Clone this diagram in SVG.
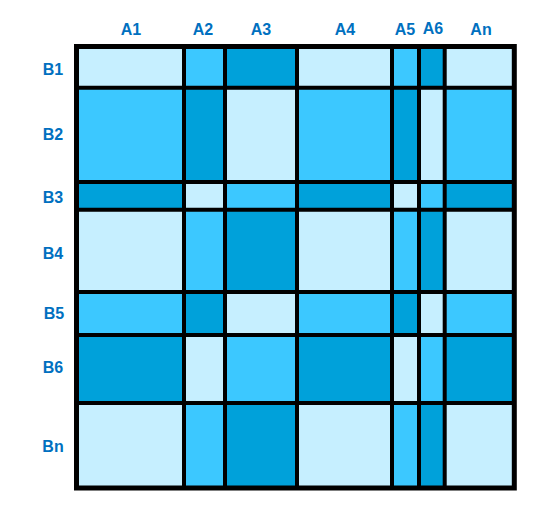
<svg xmlns="http://www.w3.org/2000/svg" width="560" height="524" viewBox="0 0 560 524">
<style>
.l{fill:#C6EFFF}
.m{fill:#3CC8FF}
.d{fill:#00A1DA}
.lbl{font-family:"Liberation Sans",Arial,sans-serif;font-weight:bold;font-size:16px;fill:#0070C0;text-anchor:middle}
.grid{stroke:#000;stroke-width:4;fill:none}
</style>
<rect width="560" height="524" fill="#fff"/>
<g id="cells">
<g id="row-B1">
<rect class="l" x="76.5" y="46.5" width="107.5" height="41.2"/>
<rect class="m" x="184" y="46.5" width="41" height="41.2"/>
<rect class="d" x="225" y="46.5" width="72" height="41.2"/>
<rect class="l" x="297" y="46.5" width="95" height="41.2"/>
<rect class="m" x="392" y="46.5" width="27" height="41.2"/>
<rect class="d" x="419" y="46.5" width="25.7" height="41.2"/>
<rect class="l" x="444.7" y="46.5" width="69.6" height="41.2"/>
</g>
<g id="row-B2">
<rect class="m" x="76.5" y="87.7" width="107.5" height="94.3"/>
<rect class="d" x="184" y="87.7" width="41" height="94.3"/>
<rect class="l" x="225" y="87.7" width="72" height="94.3"/>
<rect class="m" x="297" y="87.7" width="95" height="94.3"/>
<rect class="d" x="392" y="87.7" width="27" height="94.3"/>
<rect class="l" x="419" y="87.7" width="25.7" height="94.3"/>
<rect class="m" x="444.7" y="87.7" width="69.6" height="94.3"/>
</g>
<g id="row-B3">
<rect class="d" x="76.5" y="182" width="107.5" height="27.7"/>
<rect class="l" x="184" y="182" width="41" height="27.7"/>
<rect class="m" x="225" y="182" width="72" height="27.7"/>
<rect class="d" x="297" y="182" width="95" height="27.7"/>
<rect class="l" x="392" y="182" width="27" height="27.7"/>
<rect class="m" x="419" y="182" width="25.7" height="27.7"/>
<rect class="d" x="444.7" y="182" width="69.6" height="27.7"/>
</g>
<g id="row-B4">
<rect class="l" x="76.5" y="209.7" width="107.5" height="82.3"/>
<rect class="m" x="184" y="209.7" width="41" height="82.3"/>
<rect class="d" x="225" y="209.7" width="72" height="82.3"/>
<rect class="l" x="297" y="209.7" width="95" height="82.3"/>
<rect class="m" x="392" y="209.7" width="27" height="82.3"/>
<rect class="d" x="419" y="209.7" width="25.7" height="82.3"/>
<rect class="l" x="444.7" y="209.7" width="69.6" height="82.3"/>
</g>
<g id="row-B5">
<rect class="m" x="76.5" y="292" width="107.5" height="43"/>
<rect class="d" x="184" y="292" width="41" height="43"/>
<rect class="l" x="225" y="292" width="72" height="43"/>
<rect class="m" x="297" y="292" width="95" height="43"/>
<rect class="d" x="392" y="292" width="27" height="43"/>
<rect class="l" x="419" y="292" width="25.7" height="43"/>
<rect class="m" x="444.7" y="292" width="69.6" height="43"/>
</g>
<g id="row-B6">
<rect class="d" x="76.5" y="335" width="107.5" height="68"/>
<rect class="l" x="184" y="335" width="41" height="68"/>
<rect class="m" x="225" y="335" width="72" height="68"/>
<rect class="d" x="297" y="335" width="95" height="68"/>
<rect class="l" x="392" y="335" width="27" height="68"/>
<rect class="m" x="419" y="335" width="25.7" height="68"/>
<rect class="d" x="444.7" y="335" width="69.6" height="68"/>
</g>
<g id="row-Bn">
<rect class="l" x="76.5" y="403" width="107.5" height="85"/>
<rect class="m" x="184" y="403" width="41" height="85"/>
<rect class="d" x="225" y="403" width="72" height="85"/>
<rect class="l" x="297" y="403" width="95" height="85"/>
<rect class="m" x="392" y="403" width="27" height="85"/>
<rect class="d" x="419" y="403" width="25.7" height="85"/>
<rect class="l" x="444.7" y="403" width="69.6" height="85"/>
</g>
</g>
<g id="gridlines" class="grid">
<path d="M184 46.5V488M225 46.5V488M297 46.5V488M392 46.5V488M419 46.5V488M444.7 46.5V488"/>
<path d="M76.5 87.7H514.3M76.5 182H514.3M76.5 209.7H514.3M76.5 292H514.3M76.5 335H514.3M76.5 403H514.3"/>
<rect x="76.5" y="46.5" width="437.8" height="441.5" stroke-width="5"/>
</g>
<g id="col-labels">
<text class="lbl" x="131" y="35">A1</text>
<text class="lbl" x="203" y="35">A2</text>
<text class="lbl" x="261" y="35">A3</text>
<text class="lbl" x="345" y="35">A4</text>
<text class="lbl" x="405" y="35">A5</text>
<text class="lbl" x="433" y="34">A6</text>
<text class="lbl" x="481" y="35">An</text>
</g>
<g id="row-labels">
<text class="lbl" x="53" y="75">B1</text>
<text class="lbl" x="53" y="140">B2</text>
<text class="lbl" x="53" y="203">B3</text>
<text class="lbl" x="53" y="259">B4</text>
<text class="lbl" x="54" y="319">B5</text>
<text class="lbl" x="53" y="373">B6</text>
<text class="lbl" x="53" y="452">Bn</text>
</g>
</svg>
